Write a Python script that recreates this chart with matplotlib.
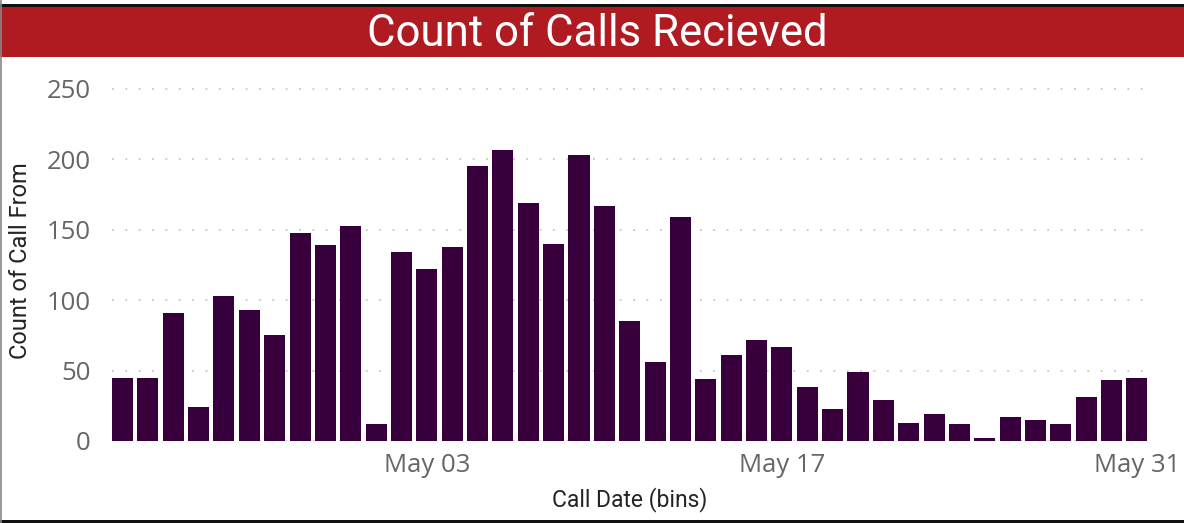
import matplotlib
matplotlib.use("Agg")
import matplotlib.pyplot as plt
import matplotlib.dates as mdates
from matplotlib.patches import Rectangle
from matplotlib.lines import Line2D
import datetime as dt

# ---- data ----
start_date = "2020-04-21"
counts = [45, 45, 91, 24, 103, 93, 75, 148, 139, 153, 12, 134, 122, 138, 195,
          207, 169, 140, 203, 167, 85, 56, 159, 44, 61, 72, 67, 38, 23, 49,
          29, 13, 19, 12, 2, 17, 15, 12, 31, 43, 45]
tick_dates = ["2020-05-03", "2020-05-17", "2020-05-31"]
y_ticks = [0, 50, 100, 150, 200, 250]
title = "Count of Calls Recieved"
x_label = "Call Date (bins)"
y_label = "Count of Call From"

d0 = dt.date.fromisoformat(start_date)
dates = [d0 + dt.timedelta(days=i) for i in range(len(counts))]
xnum = mdates.date2num(dates)

W, H = 1184, 523
fig = plt.figure(figsize=(W / 100, H / 100), dpi=100)
fig.patch.set_facecolor("white")

def fy(py):
    return 1 - py / H

# frame / banner
fig.add_artist(Rectangle((0, fy(57)), 1, fy(7) - fy(57), transform=fig.transFigure,
                         facecolor="#AF1B21", edgecolor="none"))
fig.add_artist(Rectangle((0, fy(7)), 1, fy(4) - fy(7), transform=fig.transFigure,
                         facecolor="#111111", edgecolor="none"))
fig.add_artist(Rectangle((0, 0), 1, 3 / H, transform=fig.transFigure,
                         facecolor="#111111", edgecolor="none"))
fig.add_artist(Line2D([0.5 / W, 0.5 / W], [0, 1], transform=fig.transFigure,
                      color="#888888", lw=1.2))
fig.text(597 / W, fy(34), title, color="white", fontsize=31.5, family="Roboto",
         ha="center", va="center")

bw = 0.83
ax = fig.add_axes([112 / W, 1 - 441 / H, 1036 / W, (441 - 80.5) / H])
ax.bar(xnum, counts, width=bw, align="center", color="#37003C", zorder=2)
ax.set_xlim(xnum[0] - bw / 2, xnum[-1] + bw / 2 + 0.02)
ax.set_ylim(0, 256)
ax.set_yticks(y_ticks)
ax.set_xticks(mdates.date2num([dt.date.fromisoformat(t) for t in tick_dates]))
ax.xaxis.set_major_formatter(mdates.DateFormatter("%b %d"))
for s in ax.spines.values():
    s.set_visible(False)
ax.tick_params(axis="both", length=0, labelsize=18.5, labelcolor="#666666")
ax.tick_params(axis="y", pad=15.5)
ax.tick_params(axis="x", pad=9)
for lab in ax.get_xticklabels() + ax.get_yticklabels():
    lab.set_family("Open Sans")
ax.grid(axis="y", color="#C8C8C8", lw=1.3, linestyle=(0, (1, 6.4)), zorder=0)
ax.set_axisbelow(True)
ax.set_xlabel(x_label, fontsize=16.5, family="Roboto", color="#252423", labelpad=6)
ax.set_ylabel(y_label, fontsize=17, family="Roboto", color="#252423", labelpad=10)

fig.savefig("out.png", dpi=100)
